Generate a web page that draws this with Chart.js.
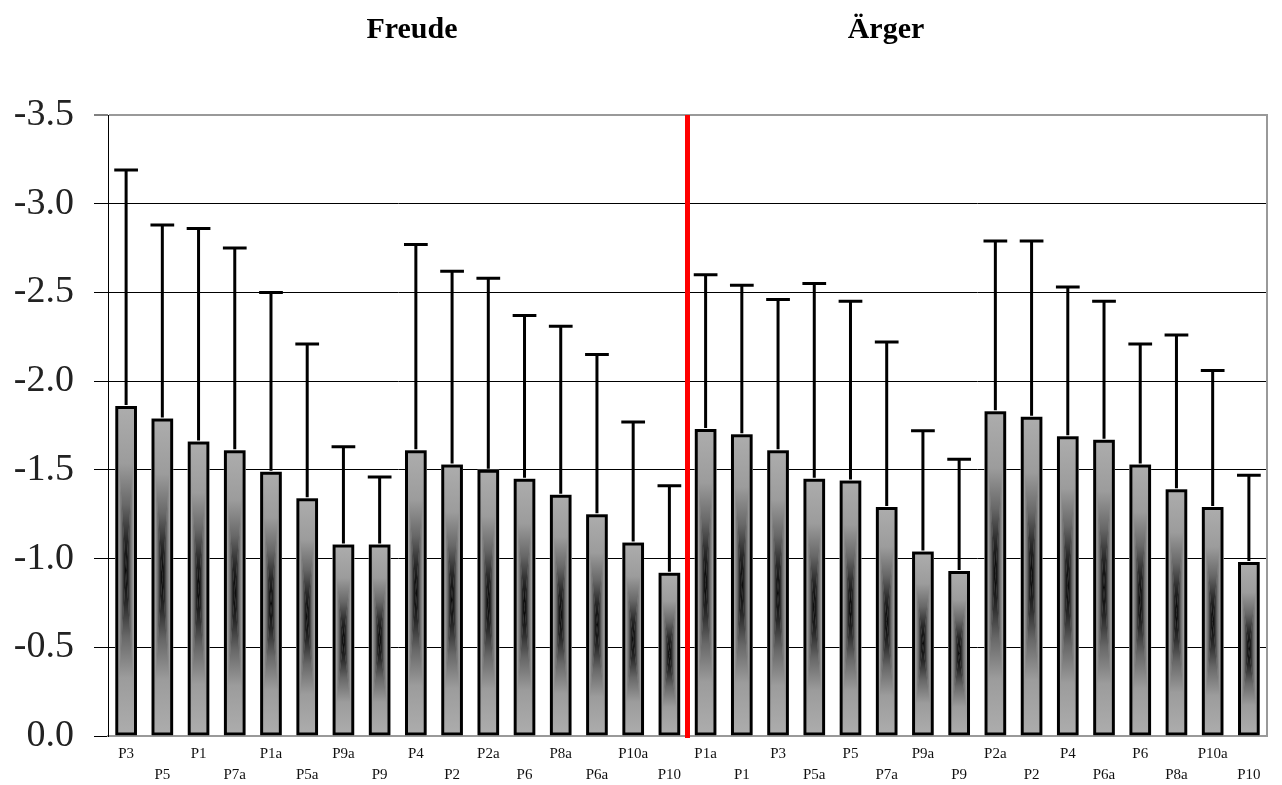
<!DOCTYPE html>
<html>
<head>
<meta charset="utf-8">
<script src="https://cdn.jsdelivr.net/npm/chart.js@4.4.0/dist/chart.umd.min.js"></script>
<style>
  html, body { margin: 0; padding: 0; background: #fff; }
  #wrap { width: 1282px; height: 785px; }
</style>
</head>
<body>
<div id="wrap"><canvas id="c" width="1282" height="785"></canvas></div>
<script>
// ---- data ----
const groupTitles = ['Freude', 'Ärger'];
const freudeLabels = ['P3','P5','P1','P7a','P1a','P5a','P9a','P9','P4','P2','P2a','P6','P8a','P6a','P10a','P10'];
const aergerLabels = ['P1a','P1','P3','P5a','P5','P7a','P9a','P9','P2a','P2','P4','P6a','P6','P8a','P10a','P10'];
const freudeMeans = [-1.86,-1.79,-1.66,-1.61,-1.49,-1.34,-1.08,-1.08,-1.61,-1.53,-1.50,-1.45,-1.36,-1.25,-1.09,-0.92];
const aergerMeans = [-1.73,-1.70,-1.61,-1.45,-1.44,-1.29,-1.04,-0.93,-1.83,-1.80,-1.69,-1.67,-1.53,-1.39,-1.29,-0.98];
const freudeSD = [1.33,1.09,1.20,1.14,1.01,0.87,0.55,0.38,1.16,1.09,1.08,0.92,0.95,0.90,0.68,0.49];
const aergerSD = [0.87,0.84,0.85,1.10,1.01,0.93,0.68,0.63,0.96,0.99,0.84,0.78,0.68,0.87,0.77,0.49];
const yTicks = [-3.5,-3.0,-2.5,-2.0,-1.5,-1.0,-0.5,0.0];

const labels = freudeLabels.concat(aergerLabels);
const means = freudeMeans.concat(aergerMeans);
const sds = freudeSD.concat(aergerSD);

// ---- plugins ----
function fillPathGradientRect(ctx, l, t, r, b) {
  const cx = (l + r) / 2, cy = (t + b) / 2;
  const stops = [[0, '#adadad'], [0.35, '#9c9c9c'], [0.6, '#686868'], [0.8, '#2a2a2a'], [1, '#000']];
  function tri(p, x0, y0, x1, y1) {
    const g = ctx.createLinearGradient(x0, y0, x1, y1);
    stops.forEach(s => g.addColorStop(s[0], s[1]));
    ctx.fillStyle = g;
    ctx.beginPath();
    ctx.moveTo(p[0][0], p[0][1]); ctx.lineTo(p[1][0], p[1][1]); ctx.lineTo(p[2][0], p[2][1]);
    ctx.closePath(); ctx.fill();
  }
  ctx.fillStyle = '#9c9c9c';
  ctx.fillRect(l, t, r - l, b - t);
  tri([[l,t],[r,t],[cx,cy]], cx, t, cx, cy);
  tri([[l,b],[r,b],[cx,cy]], cx, b, cx, cy);
  tri([[l,t],[l,b],[cx,cy]], l, cy, cx, cy);
  tri([[r,t],[r,b],[cx,cy]], r, cy, cx, cy);
}

const barShading = {
  id: 'barShading',
  beforeDatasetsDraw(chart) {
    const ctx = chart.ctx;
    const meta = chart.getDatasetMeta(0);
    ctx.save();
    meta.data.forEach(bar => {
      const l = bar.x - bar.width / 2, r = bar.x + bar.width / 2;
      const t = Math.min(bar.y, bar.base), b = Math.max(bar.y, bar.base);
      fillPathGradientRect(ctx, l, t, r, b);
    });
    ctx.restore();
  }
};

const errorBars = {
  id: 'errorBars',
  afterDatasetsDraw(chart) {
    const ctx = chart.ctx;
    const y = chart.scales.y;
    const meta = chart.getDatasetMeta(0);
    ctx.save();
    ctx.strokeStyle = '#000';
    ctx.lineWidth = 3;
    meta.data.forEach((bar, i) => {
      const yEnd = y.getPixelForValue(means[i] - sds[i]);
      ctx.beginPath();
      ctx.moveTo(bar.x, bar.y - 1);
      ctx.lineTo(bar.x, yEnd);
      ctx.moveTo(bar.x - bar.width / 2 - 1, yEnd);
      ctx.lineTo(bar.x + bar.width / 2 + 1, yEnd);
      ctx.stroke();
    });
    // group separator
    const x = chart.scales.x;
    const n = freudeLabels.length;
    const xs = (x.getPixelForValue(n - 1) + x.getPixelForValue(n)) / 2;
    ctx.strokeStyle = '#ff0000';
    ctx.lineWidth = 5;
    ctx.beginPath();
    ctx.moveTo(xs, chart.chartArea.top);
    ctx.lineTo(xs, chart.chartArea.bottom + 2);
    ctx.stroke();
    ctx.restore();
  }
};

const frameAndTitles = {
  id: 'frameAndTitles',
  afterDraw(chart) {
    const ctx = chart.ctx;
    const a = chart.chartArea;
    ctx.save();
    ctx.strokeStyle = '#999';
    ctx.lineWidth = 2;
    ctx.beginPath();
    ctx.moveTo(a.right, a.top - 1);
    ctx.lineTo(a.right, a.bottom + 1);
    ctx.stroke();
    ctx.fillStyle = '#000';
    ctx.font = 'bold 30px "Liberation Serif", "Times New Roman", serif';
    ctx.textAlign = 'center';
    ctx.textBaseline = 'middle';
    ctx.fillText(groupTitles[0], 412, 30);
    ctx.fillText(groupTitles[1], 886, 30);
    ctx.restore();
  }
};

new Chart(document.getElementById('c'), {
  type: 'bar',
  data: {
    labels: labels,
    datasets: [{
      data: means,
      backgroundColor: 'rgba(0,0,0,0)',
      borderColor: '#000',
      borderWidth: 3,
      borderSkipped: false,
      categoryPercentage: 1.0,
      barPercentage: 0.6
    }]
  },
  options: {
    responsive: false,
    animation: false,
    devicePixelRatio: 1,
    layout: { padding: { top: 115, right: 15, bottom: 0, left: 0 } },
    plugins: {
      legend: { display: false },
      tooltip: { enabled: false },
      title: { display: false }
    },
    scales: {
      x: {
        grid: { display: false, drawTicks: false },
        border: { display: true, color: '#999', width: 2 },
        ticks: {
          autoSkip: false,
          maxRotation: 0,
          minRotation: 0,
          padding: 8,
          color: '#111',
          font: { family: '"Liberation Serif", "Times New Roman", serif', size: 15, lineHeight: 1.4 },
          callback: function(v, i) { const l = this.getLabelForValue(v); return i % 2 ? ['', l] : l; }
        },
        afterFit(scale) { scale.height = 49; }
      },
      y: {
        reverse: true,
        min: -3.5,
        max: 0,
        afterBuildTicks(scale) { scale.ticks = yTicks.map(v => ({ value: v })); },
        grid: {
          color: c => (c.tick && (c.tick.value === -3.5 || c.tick.value === 0)) ? '#999' : '#000',
          lineWidth: c => (c.tick && c.tick.value === -3.5) ? 2 : 1,
          tickColor: '#000',
          tickLength: 14,
          tickWidth: 1
        },
        border: { display: true, color: '#000', width: 1 },
        ticks: {
          padding: 20,
          color: '#222',
          font: { family: '"Liberation Serif", "Times New Roman", serif', size: 38 },
          callback: v => Number(v).toFixed(1)
        },
        afterFit(scale) { scale.width = 108; }
      }
    }
  },
  plugins: [barShading, errorBars, frameAndTitles]
});
</script>
</body>
</html>
